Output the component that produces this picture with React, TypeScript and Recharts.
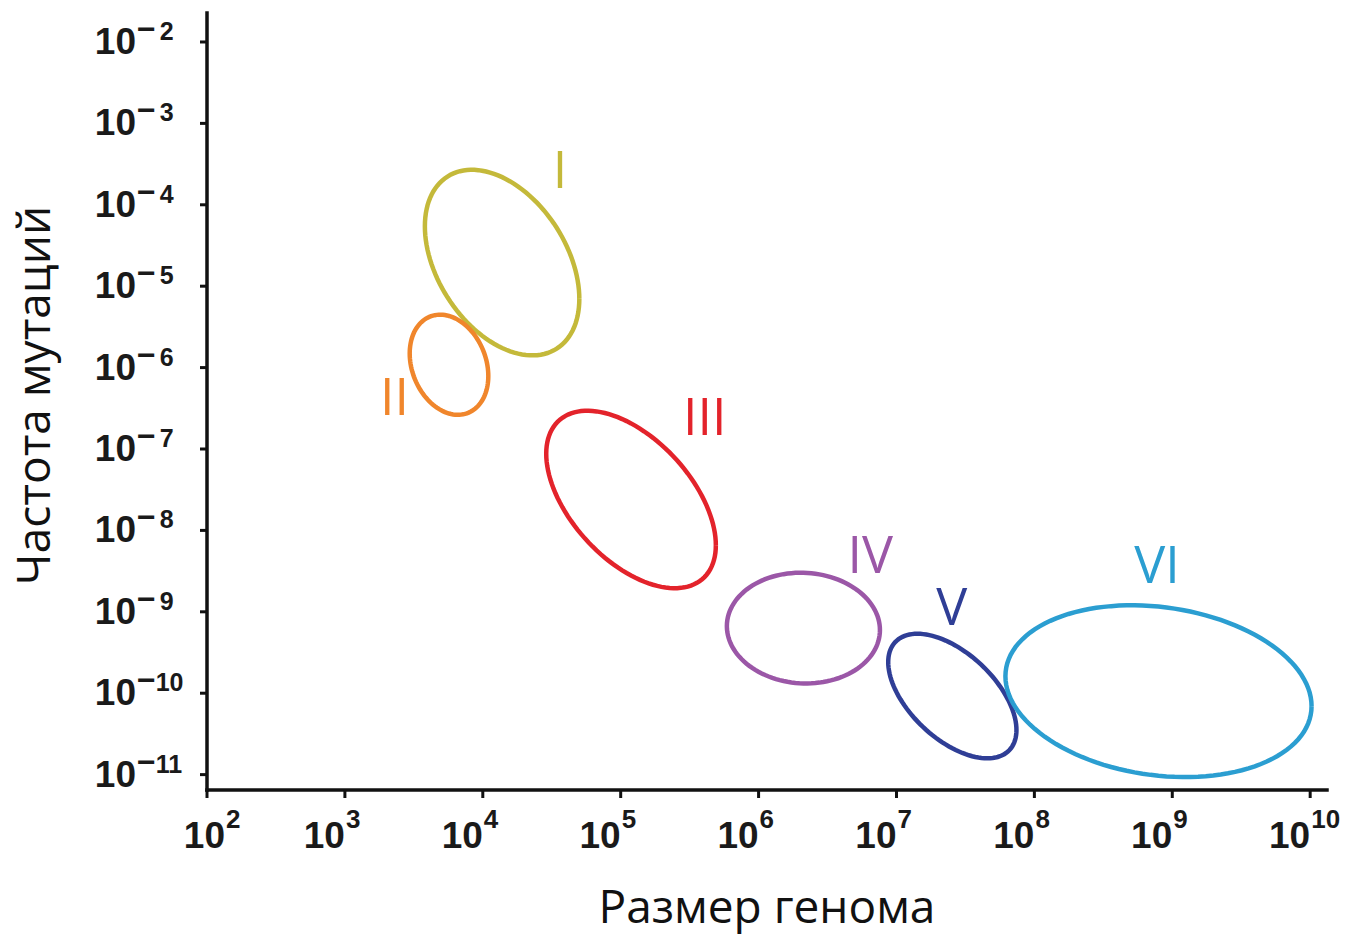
import { ComposedChart, Line, Scatter, XAxis, YAxis } from "recharts";

// log10 of genome size / mutation rate
const xDecades = [2, 3, 4, 5, 6, 7, 8, 9, 10];
const yDecades = [-11, -10, -9, -8, -7, -6, -5, -4, -3, -2];

const groups = ["I", "II", "III", "IV", "V", "VI"];
const colors = ["#c4b93a", "#f0862c", "#e3232b", "#9b57a7", "#2f3e96", "#2b9ed1"];

// extent of each group ellipse, in decades
const genomeRange = [
  [3.58, 4.7],
  [3.47, 4.04],
  [4.46, 5.69],
  [5.77, 6.88],
  [6.94, 7.87],
  [7.79, 10.01],
];
const mutationRange = [
  [-5.85, -3.57],
  [-6.58, -5.35],
  [-8.71, -6.53],
  [-9.88, -8.52],
  [-10.8, -9.27],
  [-11.03, -8.92],
];
// phase between x and y extent (90 = no tilt, >90 = falling)
const tilt = [113, 103, 121, 92, 123, 100];

// roman numeral positions (decades)
const labelX = [4.56, 3.36, 5.61, 6.81, 7.4, 8.89];
const labelY = [-3.79, -6.58, -6.83, -8.52, -9.16, -8.65];

function outline(i: number) {
  const [x0, x1] = genomeRange[i];
  const [y0, y1] = mutationRange[i];
  const cx = (x0 + x1) / 2;
  const cy = (y0 + y1) / 2;
  const rx = (x1 - x0) / 2;
  const ry = (y1 - y0) / 2;
  const d = (tilt[i] * Math.PI) / 180;
  const pts: { x: number; y: number }[] = [];
  for (let a = 0; a <= 360; a += 3) {
    const t = (a * Math.PI) / 180;
    pts.push({ x: cx + rx * Math.cos(t), y: cy + ry * Math.cos(t + d) });
  }
  return pts;
}

const labels = groups.map((name, i) => ({ name, x: labelX[i], y: labelY[i], color: colors[i] }));

const tickFont = "'Liberation Sans', Arial, sans-serif";

function XTick({ x, y, payload }: any) {
  const k = payload.value;
  const sx = k === 2 ? x + 18 : x;
  return (
    <g fill="#1a1a1a" fontFamily={tickFont} fontWeight="bold">
      <text x={sx} y={y + 50} textAnchor="end" fontSize={37}>
        10
      </text>
      <text x={sx + 1} y={y + 30} fontSize={26}>
        {k}
      </text>
    </g>
  );
}

function YTick({ x, y, payload }: any) {
  const k = Math.abs(payload.value);
  return (
    <g fill="#1a1a1a" fontFamily={tickFont} fontWeight="bold">
      <text x={x - 64} y={y + 12} textAnchor="end" fontSize={37}>
        10
      </text>
      <text x={x - 63} y={y - 2}>
        <tspan fontSize={32}>−</tspan>
        <tspan fontSize={25} dx={k < 10 ? 4 : 0}>
          {k}
        </tspan>
      </text>
    </g>
  );
}

export default function App() {
  return (
    <div style={{ position: "absolute", left: 0, top: 0, width: 1345, height: 935, background: "#fff" }}>
      <ComposedChart width={1345} height={935} margin={{ top: 13, right: 18, bottom: 0, left: 0 }}>
        <XAxis
          type="number"
          dataKey="x"
          domain={[2, 10.122]}
          ticks={xDecades}
          allowDataOverflow
          height={145}
          tickSize={8}
          tickMargin={0}
          tick={<XTick />}
          axisLine={{ stroke: "#111", strokeWidth: 3.5, strokeLinecap: "square" }}
          tickLine={{ stroke: "#111", strokeWidth: 3 }}
          label={{
            value: "Размер генома",
            position: "insideBottom",
            offset: 12,
            style: { fontSize: 46, fill: "#111", fontFamily: "'Open Sans', sans-serif" },
          }}
        />
        <YAxis
          type="number"
          dataKey="y"
          domain={[-11.189, -1.644]}
          ticks={yDecades}
          allowDataOverflow
          width={207}
          tickSize={7}
          tickMargin={0}
          tick={<YTick />}
          axisLine={{ stroke: "#111", strokeWidth: 3.5, strokeLinecap: "square" }}
          tickLine={{ stroke: "#111", strokeWidth: 3 }}
          label={(props: any) => {
            const vb = props.viewBox;
            const cy = vb.y + vb.height / 2 - 6;
            return (
              <text
                x={50}
                y={cy}
                transform={`rotate(-90 50 ${cy})`}
                textAnchor="middle"
                fontSize={46}
                fill="#111"
                fontFamily="'Open Sans', sans-serif"
              >
                Частота мутаций
              </text>
            );
          }}
        />
        {groups.map((g, i) => (
          <Line
            key={g}
            data={outline(i)}
            dataKey="y"
            type="linear"
            stroke={colors[i]}
            strokeWidth={4.5}
            dot={false}
            activeDot={false}
            isAnimationActive={false}
          />
        ))}
        <Scatter
          data={labels}
          isAnimationActive={false}
          shape={(p: any) => (
            <text
              x={p.cx}
              y={p.cy}
              textAnchor="middle"
              fontSize={52}
              fill={p.payload.color}
              fontFamily="'Open Sans', sans-serif"
            >
              {p.payload.name}
            </text>
          )}
        />
      </ComposedChart>
    </div>
  );
}
